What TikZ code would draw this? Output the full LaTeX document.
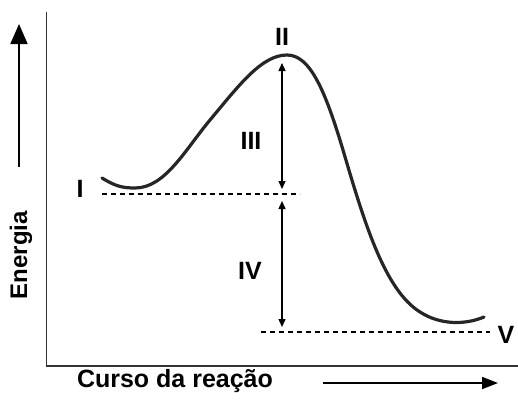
\documentclass[tikz,border=0pt]{standalone}
\usepackage{fontspec}
\setmainfont{Liberation Sans}
\usetikzlibrary{arrows.meta}
\begin{document}
\begin{tikzpicture}[x=1pt,y=-1pt,
  lbl/.style={font=\fontsize{25}{28}\selectfont\bfseries, inner sep=0pt},
  axisline/.style={line width=1.8pt, draw=black!80},
  dimarrow/.style={line width=1.4pt, {Triangle[width=7pt,length=8pt]}-{Triangle[width=7pt,length=8pt]}},
  levelline/.style={line width=1.3pt, dash pattern=on 5pt off 4pt},
  curveline/.style={line width=3.2pt, black!85, line cap=round}]
\useasboundingbox (0,0) rectangle (518,399);
% axes
\coordinate (ytop) at (46.5,12);
\coordinate (org) at (46.5,366);
\coordinate (xend) at (518,366);
\draw[axisline] (ytop) -- (org) -- (xend);
% energy arrow
\coordinate (ea) at (19,167);
\coordinate (eb) at (19,24);
\draw[line width=1.8pt, -{Triangle[width=17pt,length=20pt]}] (ea) -- (eb);
\node[lbl, font=\fontsize{24}{28}\selectfont\bfseries, rotate=90] (energia) at (21,255) {Energia};
% reaction arrow
\coordinate (ra) at (323,383);
\coordinate (rb) at (498,383);
\draw[line width=1.8pt, -{Triangle[width=12pt,length=16pt]}] (ra) -- (rb);
\node[lbl] (curso) at (175,381) {Curso da reação};
% curve
\draw[curveline] (102,178) .. controls (115,186) and (122,188) .. (135,188)
  .. controls (165,188) and (185,150) .. (210,120)
  .. controls (240,84) and (262,55) .. (287,55)
  .. controls (310,55) and (325,90) .. (343,150)
  .. controls (365,225) and (385,290) .. (420,312)
  .. controls (440,325) and (465,325) .. (484,317);
% dashed levels
\coordinate (d1a) at (102,194);
\coordinate (d1b) at (300,194);
\coordinate (d5a) at (261,332);
\coordinate (d5b) at (490,332);
\draw[levelline] (d1a) -- (d1b);
\draw[levelline] (d5a) -- (d5b);
% dimension arrows
\coordinate (a3t) at (282,63);
\coordinate (a3b) at (282,189);
\coordinate (a4t) at (282,201);
\coordinate (a4b) at (282,327);
\draw[dimarrow] (a3t) -- (a3b);
\draw[dimarrow] (a4t) -- (a4b);
% labels
\node[lbl] (lI) at (80,189) {I};
\node[lbl] (lII) at (282,37) {II};
\node[lbl] (lIII) at (251,141) {III};
\node[lbl] (lIV) at (250,271) {IV};
\node[lbl] (lV) at (506,335) {V};
\end{tikzpicture}
\end{document}
